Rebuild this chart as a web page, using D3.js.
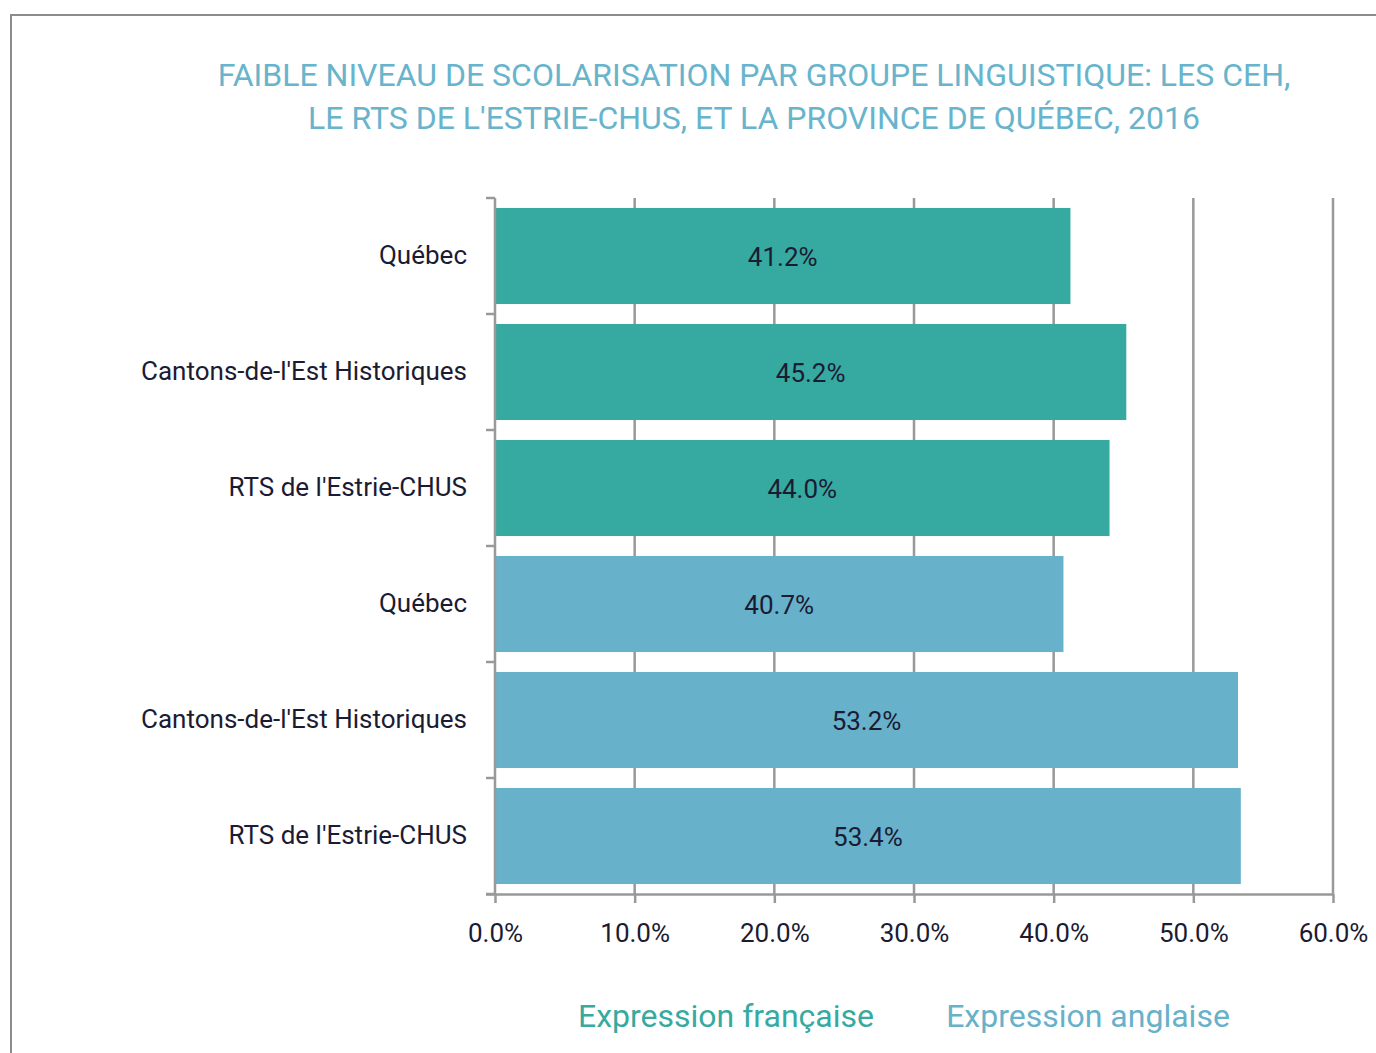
<!DOCTYPE html>
<html><head><meta charset="utf-8">
<script src="https://cdn.jsdelivr.net/npm/d3@7"></script>
<style>
html,body{margin:0;padding:0;background:#fff;}
svg{display:block;font-family:Roboto,"Noto Sans",sans-serif;}
</style></head>
<body>
<svg id="c" width="1376" height="1053"></svg>
<script>
const categories = ["Québec","Cantons-de-l'Est Historiques","RTS de l'Estrie-CHUS","Québec","Cantons-de-l'Est Historiques","RTS de l'Estrie-CHUS"];
const groups = ["fr","fr","fr","en","en","en"];
const values = [41.2,45.2,44.0,40.7,53.2,53.4];
const tickValues = [0,10,20,30,40,50,60];
const seriesNames = ["Expression française","Expression anglaise"];
const colors = {fr:"#36aaa0", en:"#67b1ca"};
const titleLines = ["FAIBLE NIVEAU DE SCOLARISATION PAR GROUPE LINGUISTIQUE: LES CEH,","LE RTS DE L'ESTRIE-CHUS, ET LA PROVINCE DE QUÉBEC, 2016"];

(function(){
const svg = d3.select("#c");
const grid = "#999999";
svg.append("rect").attr("x",11).attr("y",15).attr("width",1400).attr("height",1100)
  .attr("fill","none").attr("stroke","#8c8c8c").attr("stroke-width",2);

svg.append("g").selectAll("text").data(titleLines).join("text")
  .attr("x",754).attr("y",(d,i)=>86+i*43).attr("text-anchor","middle")
  .attr("fill","#67b4cc").attr("font-size",32).text(d=>d);

const pl=495, pr=1333, pt=198, pb=894;
const x = d3.scaleLinear().domain([0,60]).range([pl,pr]);
const y = d3.scaleBand().domain(d3.range(categories.length)).range([pt,pb]).paddingInner(0.172).paddingOuter(0.086);

svg.append("g").selectAll("line").data(tickValues.slice(1)).join("line")
  .attr("x1",d=>x(d)).attr("x2",d=>x(d)).attr("y1",pt).attr("y2",pb)
  .attr("stroke",grid).attr("stroke-width",2.5);

svg.append("g").selectAll("rect").data(values).join("rect")
  .attr("x",x(0)).attr("y",(d,i)=>y(i)).attr("width",d=>x(d)-x(0)).attr("height",y.bandwidth())
  .attr("fill",(d,i)=>colors[groups[i]]);

svg.append("g").selectAll("text").data(values).join("text")
  .attr("x",d=>(x(0)+x(d))/2).attr("y",(d,i)=>y(i)+y.bandwidth()/2+10)
  .attr("text-anchor","middle").attr("font-size",26).attr("fill","#1b1b33")
  .text(d=>d.toFixed(1)+"%");

const xa = svg.append("g").attr("transform",`translate(0,${pb})`)
  .call(d3.axisBottom(x).tickValues(tickValues).tickSize(9).tickSizeOuter(0).tickPadding(21).tickFormat(d=>d.toFixed(1)+"%"));
xa.select(".domain").attr("stroke",grid).attr("stroke-width",2.5).attr("d",`M${pl-9},0.5H${pr}`);
xa.selectAll(".tick line").attr("stroke",grid).attr("stroke-width",2.5);
xa.selectAll(".tick text").attr("font-size",26).attr("fill","#1b1b33").attr("font-family","Roboto");

const bounds = d3.range(categories.length+1).map(i=>pt+i*(pb-pt)/categories.length);
svg.append("line").attr("x1",pl).attr("x2",pl).attr("y1",pt).attr("y2",pb).attr("stroke",grid).attr("stroke-width",2.5);
svg.append("g").selectAll("line").data(bounds).join("line")
  .attr("x1",pl-9).attr("x2",pl).attr("y1",d=>d).attr("y2",d=>d)
  .attr("stroke",grid).attr("stroke-width",2.5);

svg.append("g").selectAll("text").data(categories).join("text")
  .attr("x",467).attr("y",(d,i)=>y(i)+y.bandwidth()/2+8)
  .attr("text-anchor","end").attr("font-size",26).attr("fill","#1b1b33").text(d=>d);

const legX=[726,1088];
svg.append("g").selectAll("text").data(seriesNames).join("text")
  .attr("x",(d,i)=>legX[i]).attr("y",1027).attr("text-anchor","middle")
  .attr("font-size",32).attr("fill",(d,i)=>i===0?colors.fr:colors.en).text(d=>d);
})();
</script>
</body></html>
